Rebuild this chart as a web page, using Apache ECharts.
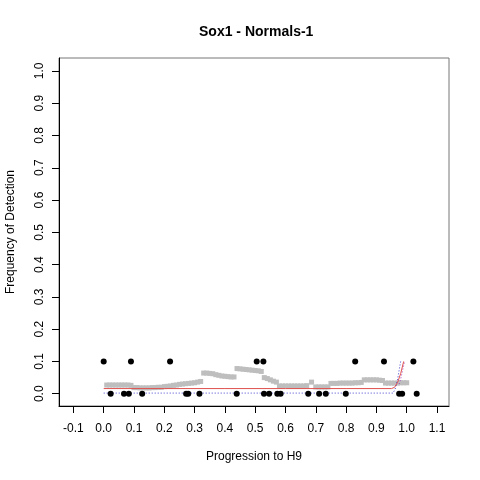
<!DOCTYPE html>
<html>
<head>
<meta charset="utf-8">
<script src="https://cdn.jsdelivr.net/npm/echarts@6/dist/echarts.min.js"></script>
<style>html,body{margin:0;padding:0;background:#fff}#c{width:480px;height:480px}</style>
</head>
<body>
<div id="c"></div>
<script>
// Tick labels
var xTicks = [-0.1,0.0,0.1,0.2,0.3,0.4,0.5,0.6,0.7,0.8,0.9,1.0,1.1];
var yTicks = [0.0,0.1,0.2,0.3,0.4,0.5,0.6,0.7,0.8,0.9,1.0];

// Detected (0.1) and not detected (0.0) cells: [progression, frequency]
var detectedPts = [[0.0,0.1],[0.09,0.1],[0.219,0.1],[0.505,0.1],[0.527,0.1],[0.83,0.1],[0.925,0.1],[1.022,0.1]];
var zeroPts = [[0.023,0],[0.067,0],[0.083,0],[0.127,0],[0.272,0],[0.279,0],[0.316,0],[0.439,0],
  [0.529,0],[0.546,0],[0.573,0],[0.584,0],[0.675,0],[0.711,0],[0.733,0],[0.799,0],[0.975,0],[0.985,0],[1.033,0]];

// Running average (grey squares)
var runAvg = [
  [0.01,0.027],[0.02,0.027],[0.03,0.027],[0.04,0.027],[0.05,0.027],[0.06,0.027],[0.07,0.027],[0.08,0.027],[0.09,0.026],
  [0.10,0.019],[0.11,0.019],[0.12,0.018],[0.13,0.018],[0.14,0.018],[0.15,0.018],[0.16,0.019],[0.17,0.019],[0.18,0.02],[0.19,0.02],
  [0.20,0.022],[0.21,0.023],[0.22,0.024],[0.23,0.026],[0.24,0.027],[0.25,0.029],[0.26,0.03],[0.27,0.031],[0.28,0.032],[0.29,0.033],
  [0.30,0.034],[0.31,0.036],[0.32,0.038],
  [0.33,0.064],[0.34,0.064],[0.35,0.063],[0.36,0.062],[0.37,0.059],[0.38,0.057],[0.39,0.055],[0.40,0.054],[0.41,0.053],[0.42,0.052],[0.43,0.052],
  [0.44,0.078],[0.45,0.077],[0.46,0.076],[0.47,0.075],[0.48,0.074],[0.49,0.073],[0.50,0.072],[0.51,0.071],[0.52,0.069],
  [0.53,0.05],[0.54,0.047],[0.55,0.043],[0.56,0.039],[0.57,0.036],
  [0.58,0.024],[0.59,0.024],[0.60,0.024],[0.61,0.024],[0.62,0.024],[0.63,0.024],[0.64,0.024],[0.65,0.024],[0.66,0.024],[0.67,0.025],
  [0.686,0.036],
  [0.70,0.021],[0.71,0.021],[0.72,0.021],[0.73,0.021],[0.74,0.021],
  [0.75,0.032],[0.76,0.032],[0.77,0.032],[0.78,0.033],[0.79,0.033],[0.80,0.033],[0.81,0.033],[0.82,0.033],[0.83,0.034],[0.84,0.034],[0.85,0.035],
  [0.86,0.043],[0.87,0.043],[0.88,0.043],[0.89,0.043],[0.90,0.043],[0.91,0.042],[0.92,0.041],
  [0.93,0.033],[0.94,0.033],[0.95,0.033],[0.96,0.033],[0.97,0.033],[0.98,0.034],[0.99,0.034],[1.0,0.034]
];

// Fitted curve and bands
var fitLine = [[0.0,0.016],[0.2,0.016],[0.4,0.016],[0.6,0.016],[0.8,0.016],[0.95,0.016],[0.96,0.02],[0.97,0.035],[0.98,0.062],[0.99,0.1]];
var lowBand = [[0.0,0.002],[0.2,0.002],[0.4,0.002],[0.6,0.002],[0.8,0.002],[0.955,0.002],[0.962,0.015],[0.97,0.045],[0.98,0.1]];
var highBand = [[0.975,0.03],[0.98,0.045],[0.987,0.075],[0.993,0.1]];

var chart = echarts.init(document.getElementById('c'), null, {renderer:'canvas'});
var font = 'Liberation Sans, Arial, Helvetica, sans-serif';
chart.setOption({
  animation:false,
  backgroundColor:'#fff',
  title:{text:'Sox1 - Normals-1', left:194, top:20,
    textStyle:{fontFamily:font, fontSize:14, fontWeight:'bold', color:'#000'}},
  grid:{left:59, right:31, top:58, bottom:74, show:true, borderColor:'#777', borderWidth:1,
    containLabel:false, outerBoundsMode:'none'},
  xAxis:{type:'value', min:-0.1475, max:1.1396,
    name:'Progression to H9', nameLocation:'middle', nameGap:45,
    nameTextStyle:{fontFamily:font, fontSize:12, color:'#000'},
    axisLine:{show:true, onZero:false, lineStyle:{color:'#000'}},
    axisTick:{show:true, length:7, customValues:xTicks, lineStyle:{color:'#000'}},
    axisLabel:{customValues:xTicks, margin:17, fontFamily:font, fontSize:12, color:'#000',
      formatter:function(v){return v.toFixed(1);}},
    splitLine:{show:false}},
  yAxis:{type:'value', min:-0.038, max:1.040,
    name:'Frequency of Detection', nameLocation:'middle', nameGap:42,
    nameTextStyle:{fontFamily:font, fontSize:12, color:'#000'},
    axisLine:{show:true, onZero:false, lineStyle:{color:'#000'}},
    axisTick:{show:true, length:7, customValues:yTicks, lineStyle:{color:'#000'}},
    axisLabel:{customValues:yTicks, rotate:90, margin:13, fontFamily:font, fontSize:12, color:'#000',
      formatter:function(v){return v.toFixed(1);}},
    splitLine:{show:false}},
  series:[
    {type:'scatter', data:runAvg, symbol:'rect', symbolSize:5, itemStyle:{color:'#bebebe', opacity:1}, z:2},
    {type:'line', data:highBand, showSymbol:false, symbol:'none', lineStyle:{color:'#a040c0', width:1, type:[1,2]}, z:3},
    {type:'line', data:lowBand, showSymbol:false, symbol:'none', lineStyle:{color:'#4040d0', width:1, type:[1,2]}, z:3},
    {type:'line', data:fitLine, showSymbol:false, symbol:'none', smooth:false, lineStyle:{color:'#e05050', width:1}, z:4},
    {type:'scatter', data:detectedPts.concat(zeroPts), symbol:'circle', symbolSize:6, itemStyle:{color:'#000', opacity:1}, z:5}
  ]
});
</script>
</body>
</html>
